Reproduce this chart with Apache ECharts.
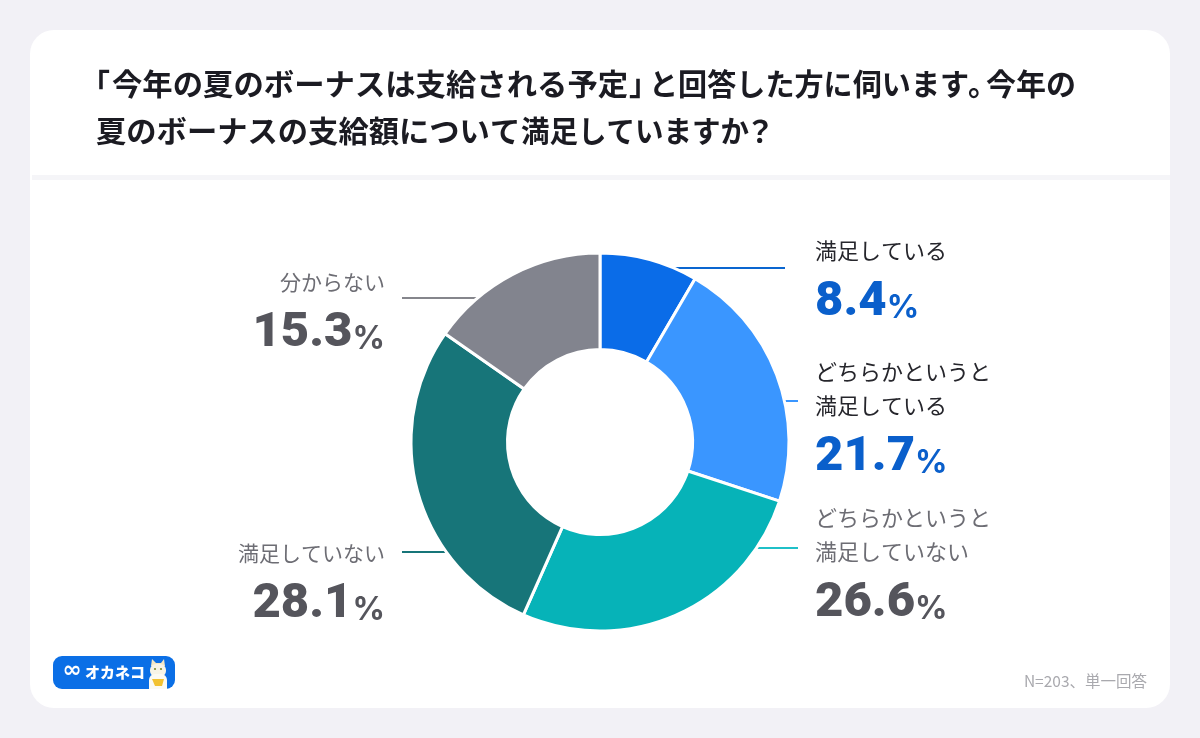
<!DOCTYPE html>
<html>
<head>
<meta charset="utf-8">
<title>夏のボーナスの支給額</title>
<script src="https://cdn.jsdelivr.net/npm/echarts@6/dist/echarts.min.js"></script>
<style>
html,body{margin:0;padding:0;background:#f2f1f6;}
#chart{width:1200px;height:738px;}
</style>
</head>
<body>
<div id="chart"></div>
<script>
// title is cut into pieces because canvas has no proportional kana spacing
var title_pieces = ["「", "今年の夏のボーナスは支給される予定", "」", "と回答した方に伺います", "。", "今年の", "夏のボーナスの支給額について", "満足していますか", "？"];
var title_x = [80, 112, 629, 649, 968, 986, 96, 521, 745];
var title_y = [84, 84, 84, 84, 84, 84, 131, 131, 131];
var title_scale = [1, 1.012, 1, 0.97, 1, 1, 1.01, 0.95, 1];
var note_text = "N=203、単一回答";
var categories = ["満足している", "どちらかというと\n満足している", "どちらかというと\n満足していない", "満足していない", "分からない"];
var values = [8.4, 21.7, 26.6, 28.1, 15.3];
var slice_colors = ["#0a6ce8", "#3a96ff", "#06b3b8", "#177579", "#82848e"];

// label anchor for each slice
var label_x = [815, 815, 815, 385, 385];
var label_y = [234, 355, 501, 536, 265];
var label_key = ["a", "a", "b", "c", "c"];

// leader lines, drawn under the pie
var line_y = [268, 401, 548, 552, 298];
var line_from = [640, 760, 730, 470, 500];
var line_to = [785, 798, 798, 402, 402];
var line_colors = ["#0a66d0", "#3a96ff", "#1fc0c8", "#177579", "#85868c"];

var jp_font = '"Noto Sans CJK JP"';
var num_font = 'Roboto';

var chart_dom = document.querySelector("#chart");
var myChart = echarts.init(chart_dom);

function rich_label(params){
    var key = label_key[params.dataIndex];
    var name_lines = params.name.split("\n").map(function(d){
        return "{n" + key + "|" + d + "}";
    });
    return name_lines.join("\n") + "\n{v" + key + "|" + params.value.toFixed(1) + "}{p" + key + "|%}";
}

function name_style(color, size){
    return {fontFamily: jp_font, fontSize: size, fontWeight: 400, color: color, lineHeight: 34};
}
function value_style(color){
    return {fontFamily: num_font, fontSize: 49, fontWeight: 900, color: color, lineHeight: 59, verticalAlign: "bottom"};
}
function percent_style(color){
    return {fontFamily: 'Inter', fontSize: 32, fontWeight: 700, color: color, lineHeight: 50, verticalAlign: "bottom", padding: [0, 0, 3, 0]};
}

// decorations
var lines = line_y.map(function(y, i){
    return {
        type: "line",
        z: 1,
        shape: {x1: line_from[i], y1: y, x2: line_to[i], y2: y},
        style: {stroke: line_colors[i], lineWidth: 2}
    };
});

var title_texts = title_pieces.map(function(d, i){
    return {
        type: "text",
        z: 3,
        x: title_x[i],
        y: title_y[i],
        scaleX: title_scale[i],
        style: {text: d, fill: "#1b1b22", font: "700 30px " + jp_font, align: "left", verticalAlign: "middle"}
    };
});

var logo = {
    type: "group",
    z: 3,
    children: [
        {type: "rect", shape: {x: 53, y: 656, width: 122, height: 33, r: 9}, style: {fill: "#0b6fe6"}},
        {type: "text", style: {x: 72, y: 671, text: "∞", fill: "#fff", font: "bold 23px 'DejaVu Sans'", align: "center", verticalAlign: "middle"}},
        {type: "text", style: {x: 85, y: 672, text: "オカネコ", fill: "#fff", font: "900 15px " + jp_font, align: "left", verticalAlign: "middle"}},
        // cat
        {type: "polygon", shape: {points: [[151, 666], [152, 659], [156, 663], [161, 663], [164, 659], [165, 666]]}, style: {fill: "#f3e7c4"}},
        {type: "rect", shape: {x: 150, y: 664, width: 16, height: 13, r: 6}, style: {fill: "#f7f4e6"}},
        {type: "rect", shape: {x: 149, y: 674, width: 18, height: 15, r: [6, 6, 0, 0]}, style: {fill: "#fbfaf2"}},
        {type: "polygon", shape: {points: [[152, 679], [164, 679], [162, 686], [155, 686]]}, style: {fill: "#f2c230"}},
        {type: "circle", shape: {cx: 155, cy: 669, r: 1.1}, style: {fill: "#7b8a30"}},
        {type: "circle", shape: {cx: 161, cy: 669, r: 1.1}, style: {fill: "#7b8a30"}}
    ]
};

var option = {
    backgroundColor: "#f2f1f6",
    animation: false,
    graphic: {
        elements: [
            {type: "rect", z: -1, shape: {x: 30, y: 30, width: 1140, height: 678, r: 24}, style: {fill: "#ffffff"}},
            {type: "rect", z: 0, shape: {x: 32, y: 175, width: 1138, height: 5}, style: {fill: "#f5f5f8"}},
            {type: "text", z: 3, style: {x: 1147, y: 681, text: note_text, fill: "#a9a9ae", font: "15.5px " + jp_font, align: "right", verticalAlign: "middle"}},
            logo
        ].concat(lines, title_texts)
    },
    series: [{
        type: "pie",
        silent: true,
        center: [600, 442],
        radius: [92.5, 189],
        startAngle: 90,
        clockwise: true,
        avoidLabelOverlap: false,
        itemStyle: {borderColor: "#ffffff", borderWidth: 3},
        emphasis: {disabled: true},
        labelLine: {show: false},
        label: {
            show: true,
            position: "outside",
            formatter: rich_label,
            rich: {
                na: name_style("#26262c", 22),
                nb: name_style("#6d6d74", 22),
                nc: name_style("#6d6d74", 21),
                va: value_style("#0a5fcb"),
                vb: value_style("#55555c"),
                vc: value_style("#55555c"),
                pa: percent_style("#0a5fcb"),
                pb: percent_style("#55555c"),
                pc: percent_style("#55555c")
            }
        },
        labelLayout: function(params){
            var i = params.dataIndex;
            return {
                x: label_x[i],
                y: label_y[i],
                align: i < 3 ? "left" : "right",
                verticalAlign: "top"
            };
        },
        data: categories.map(function(d, i){
            return {name: d, value: values[i], itemStyle: {color: slice_colors[i]}};
        })
    }]
};

myChart.setOption(option);
</script>
</body>
</html>
